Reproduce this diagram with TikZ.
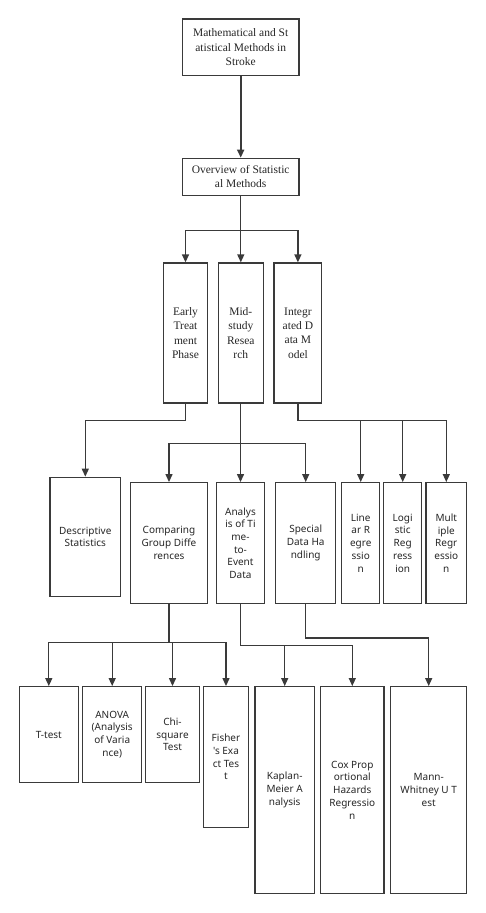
\documentclass[tikz,border=0pt]{standalone}
\usepackage{fontspec}
\setmainfont{Liberation Serif}
\newfontfamily\cellfont{Noto Sans}
\usetikzlibrary{arrows.meta}
\definecolor{linegray}{HTML}{3A3A3A}
\definecolor{textgray}{HTML}{262626}

\tikzset{
  cell/.style={draw=linegray, line width=1.3pt, inner sep=0pt, align=center,
    text=textgray, font=\cellfont\fontsize{10pt}{12.7pt}\selectfont},
  titlecell/.style={cell, font=\fontsize{11.5pt}{14.3pt}\selectfont},
  link/.style={draw=linegray, line width=1.3pt, -{Triangle[length=8pt,width=7pt]}}
}

\begin{document}
\begin{tikzpicture}[x=1pt, y=-1pt]
  \useasboundingbox (0,0) rectangle (486,913);
  % top levels
  \node[titlecell, minimum width=116.7pt, minimum height=56.3pt] (title) at (240.7,47.2)
    {Mathematical and St\\atistical Methods in\\Stroke};
  \node[titlecell, minimum width=116.7pt, minimum height=37pt] (overview) at (240.7,176.8)
    {Overview of Statistic\\al Methods};
  % phases
  \node[titlecell, minimum width=44.4pt, minimum height=140pt] (early) at (185.5,333)
    {Early\\Treat\\ment\\Phase};
  \node[titlecell, minimum width=45pt, minimum height=140pt] (mid) at (240.8,333)
    {Mid-\\study\\Resea\\rch};
  \node[titlecell, minimum width=47.7pt, minimum height=140pt] (integ) at (297.9,333)
    {Integr\\ated D\\ata M\\odel};
  % methods
  \node[cell, minimum width=70.7pt, minimum height=119.4pt] (descr) at (85.3,537)
    {Descriptive\\Statistics};
  \node[cell, minimum width=76.6pt, minimum height=120.6pt] (compare) at (169,543)
    {Comparing\\Group Diffe\\rences};
  \node[cell, minimum width=47.6pt, minimum height=120.6pt] (timeevent) at (240.5,543)
    {Analys\\is of Ti\\me-\\to-\\Event\\Data};
  \node[cell, minimum width=60pt, minimum height=120.6pt] (special) at (305.7,543)
    {Special\\Data Ha\\ndling};
  \node[cell, minimum width=38pt, minimum height=120.6pt] (linreg) at (360.7,543)
    {Line\\ar R\\egre\\ssio\\n};
  \node[cell, minimum width=38pt, minimum height=120.6pt] (logreg) at (402.7,543)
    {Logi\\stic\\Reg\\ress\\ion};
  \node[cell, minimum width=40.7pt, minimum height=120.6pt] (multreg) at (446.3,543)
    {Mult\\iple\\Regr\\essio\\n};
  % tests
  \node[cell, minimum width=59pt, minimum height=95.6pt] (ttest) at (48.8,734.5)
    {T-test};
  \node[cell, minimum width=59pt, minimum height=95.6pt] (anova) at (112.2,734.5)
    {ANOVA\\(Analysis\\of Varia\\nce)};
  \node[cell, minimum width=53.6pt, minimum height=95.6pt] (chisq) at (172.5,734.5)
    {Chi-\\square\\Test};
  \node[cell, minimum width=44.6pt, minimum height=140.6pt] (fisher) at (226,757)
    {Fisher\\'s Exa\\ct Tes\\t};
  \node[cell, minimum width=59.3pt, minimum height=206.6pt] (kaplan) at (284.7,790)
    {Kaplan-\\Meier A\\nalysis};
  \node[cell, minimum width=63.3pt, minimum height=206.6pt] (cox) at (352.3,790)
    {Cox Prop\\ortional\\Hazards\\Regressio\\n};
  \node[cell, minimum width=76pt, minimum height=206.6pt] (mann) at (428.7,790)
    {Mann-\\Whitney U T\\est};
  % connectors
  \draw[link, line width=1.7pt] (title) -- (overview);
  \foreach \c in {early,mid,integ}
    \draw[link] (overview.south) -- ++(0,34.7) -| (\c.north);
  \draw[link] (early.south) -- ++(0,16.5) -| (descr.north);
  \foreach \c in {compare,timeevent,special}
    \draw[link] (mid.south) -- ++(0,40) -| (\c.north);
  \foreach \c in {linreg,logreg,multreg}
    \draw[link] (integ.south) -- ++(0,17) -| (\c.north);
  \foreach \c in {ttest,anova,chisq,fisher}
    \draw[link] (compare.south) -- ++(0,38.4) -| (\c.north);
  \foreach \c in {kaplan,cox}
    \draw[link] (timeevent.south) -- ++(0,41.7) -| (\c.north);
  \draw[link] (special.south) -- ++(0,34) -| (mann.north);
\end{tikzpicture}
\end{document}
